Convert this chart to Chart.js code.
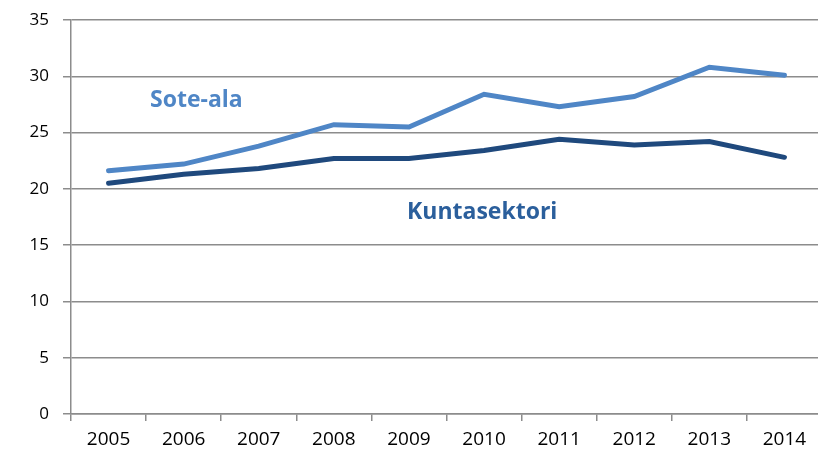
<!DOCTYPE html>
<html>
<head>
<meta charset="utf-8">
<script src="https://cdn.jsdelivr.net/npm/chart.js@4"></script>
<style>
  html, body { margin:0; padding:0; background:#fff; overflow:hidden; }
  #wrap { width:823px; height:452px; }
</style>
</head>
<body>
<div id="wrap"><canvas id="chart"></canvas></div>
<script>
// ===== Data =====
const years = ['2005','2006','2007','2008','2009','2010','2011','2012','2013','2014'];
const soteAla = [21.6, 22.2, 23.8, 25.7, 25.5, 28.4, 27.3, 28.2, 30.8, 30.1];
const kuntasektori = [20.5, 21.3, 21.8, 22.7, 22.7, 23.4, 24.4, 23.9, 24.2, 22.8];
const yTicks = [0, 5, 10, 15, 20, 25, 30, 35];

const GRID = '#8c8c8c';

// ===== Series labels drawn in the plot =====
const seriesLabels = {
  id:'seriesLabels',
  afterDatasetsDraw(chart){
    const ctx = chart.ctx;
    ctx.save();
    ctx.font = 'bold 23px "Open Sans", sans-serif';
    ctx.textBaseline = 'middle';
    ctx.textAlign = 'left';
    ctx.fillStyle = '#4f86c6';
    ctx.fillText('Sote-ala', 150, 100);
    ctx.fillStyle = '#2b5f9c';
    ctx.fillText('Kuntasektori', 407, 212);
    ctx.restore();
  }
};

new Chart(document.getElementById('chart'), {
  type:'line',
  data:{
    labels:years,
    datasets:[
      { label:'Sote-ala', data:soteAla, borderColor:'#4f86c6', borderWidth:5, pointRadius:0, tension:0, borderCapStyle:'round' },
      { label:'Kuntasektori', data:kuntasektori, borderColor:'#1f497d', borderWidth:5, pointRadius:0, tension:0, borderCapStyle:'round' }
    ]
  },
  options:{
    responsive:true, maintainAspectRatio:false, animation:false,
    layout:{ autoPadding:false, padding:{ top:20, right:1, left:0, bottom:0 } },
    plugins:{ legend:{ display:false }, tooltip:{ enabled:false } },
    scales:{
      x:{
        offset:true,
        grid:{ display:true, drawOnChartArea:false, drawTicks:true, tickLength:7, offset:true, color:GRID, lineWidth:1.5 },
        border:{ color:GRID, width:1.5 },
        ticks:{ color:'#000', font:{ family:'"Open Sans", sans-serif', size:19 }, padding:7, maxRotation:0 },
        afterFit(s){ s.height = 38; }
      },
      y:{
        min:0, max:35,
        afterBuildTicks(s){ s.ticks = yTicks.map(v=>({ value:v })); },
        grid:{ color:GRID, lineWidth:1.5, tickLength:8 },
        border:{ color:GRID, width:1.5 },
        ticks:{ color:'#000', font:{ family:'"Open Sans", sans-serif', size:17 }, padding:14 },
        afterFit(s){ s.width = 71; s.paddingTop = 10; s.paddingBottom = 10; }
      }
    }
  },
  plugins:[seriesLabels]
});
</script>
</body>
</html>
